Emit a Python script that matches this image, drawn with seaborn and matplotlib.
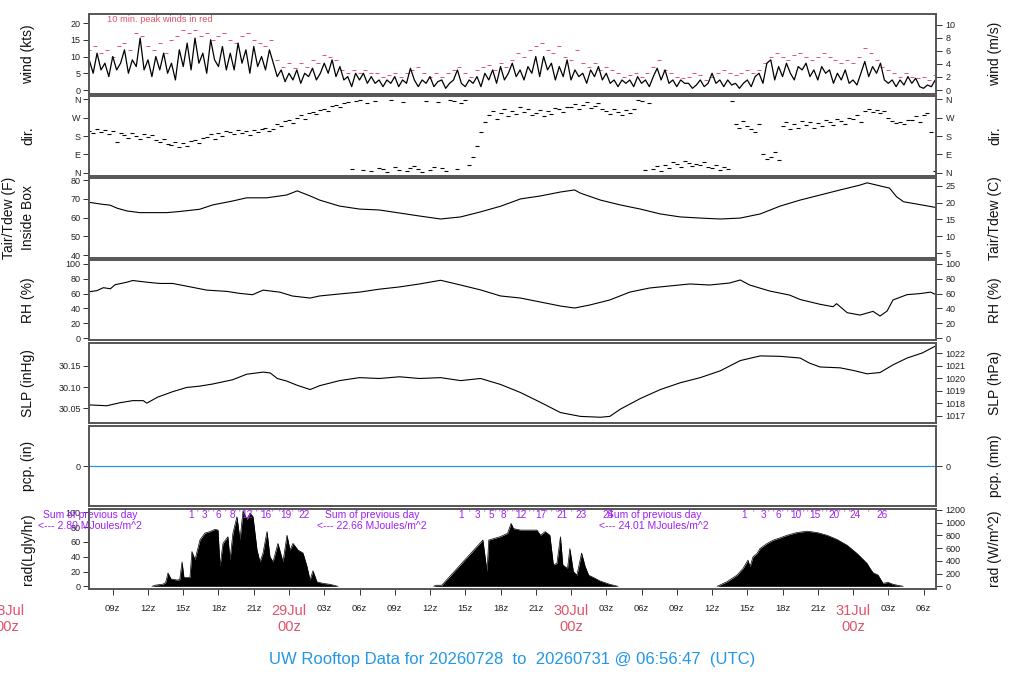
import numpy as np
import matplotlib
matplotlib.use("Agg")
import matplotlib.pyplot as plt
import matplotlib.transforms as mtransforms
import seaborn as sns

# ---------------- data (hours since 28 Jul 00z) ----------------
# wind speed (kts), every 20 min from 07z 28 Jul
wind_kts = [
    9, 5, 11, 6, 8, 4, 10, 6, 8, 12, 5, 9,
    7, 15.5, 6, 9, 4, 10, 6, 11, 5, 8, 3, 12,
    7, 14, 6, 15.5, 8, 11, 5, 15, 9, 7, 13, 6,
    11, 6, 14, 8, 12, 5, 13, 7, 10, 6, 12, 8,
    4, 6, 2.5, 5, 3, 6, 2, 5, 4, 6.5, 3, 5,
    8, 5, 9, 4, 7, 3, 4, 1, 5, 3, 5, 2,
    4, 2, 3, 1, 3, 2, 4, 1, 3, 2, 6.5, 3,
    1, 3, 2, 4, 1, 2.5, 3, 0.5, 2, 3, 6, 2,
    1, 3, 2, 4, 1, 5, 3, 6, 2, 7, 3, 5,
    8, 4, 6, 3, 7, 5, 10, 4, 10, 6, 8, 3,
    7, 4, 9, 3, 6, 4, 5, 2, 6, 4, 7, 3,
    5, 2, 3, 1, 3, 2, 3, 1, 4, 2, 3, 1,
    4, 6.5, 3, 6, 2, 3, 1, 3, 2, 2, 0.5, 1.5,
    3, 1, 2, 5, 2, 3, 1, 3, 1.5, 2, 0.5, 2,
    3, 1, 4, 5, 2, 8, 9, 3, 7, 4, 8, 5,
    3, 7, 6, 8, 4, 6, 3, 7, 5, 6, 2, 5,
    3, 6, 2, 3, 1.5, 5, 8.5, 4, 7, 5, 8, 3,
    2, 3, 1, 3, 1.5, 4, 2, 3.5, 1, 0.5, 1.5, 1,
    3,
]
# 10-min peak winds (kts), every 30 min from 07z 28 Jul
peak_kts = [
    12, 13, 11, 12, 10, 13,
    14, 12, 17, 16,
    13, 12, 14, 11,
    15, 16, 18, 17, 18, 16, 17, 15,
    16, 17, 15, 14, 16, 17, 15, 14, 13, 15,
    9, 7, 8, 6.5, 8, 7, 9, 8,
    10.5, 10, 9,
    6, 5, 6, 5, 6, 5,
    5, 4, 4.5, 5, 4, 5, 6, 7, 5, 4, 5, 4, 5, 6, 7, 5, 4,
    6, 7, 7.5, 6, 8, 7,
    9, 11, 10, 12, 13, 14, 12, 11, 13, 10, 9, 12,
    8, 7, 8, 6, 7, 6,
    5, 4, 4.5, 5, 4, 5, 7, 9,
    6, 5, 4, 3.5, 4, 5, 4.5, 3, 4, 5, 6, 5, 4.5, 5, 6, 5, 6,
    8, 10, 11, 10, 9, 10.5, 11, 10, 9, 10, 11, 10, 9, 8, 9, 8,
    10, 12.5, 11, 9, 7, 6,
    5, 4, 5, 4, 3.5, 4, 3, 4.5,
]
# wind direction (deg), every 20 min from 07z 28 Jul
dir_deg = [
    205, 195, 215, 200, 210, 190, 205, 150, 195, 185, 170, 195,
    180, 165, 190, 175, 185, 160, 150, 165, 140, 135, 150, 125,
    145, 130, 155, 160, 145, 170, 175, 190, 165, 195, 180, 205,
    200, 190, 210, 195, 205, 185, 210, 200, 215, 220, 205, 215,
    240, 230, 255, 260, 245, 270, 280, 265, 290, 295, 285, 305,
    310, 300, 325, 330, 320, 340, 345, 20, 350, 355, 15, 340,
    10, 350, 25, 20, 5, 355, 30, 15, 345, 10, 25, 35,
    20, 5, 350, 15, 30, 345, 25, 10, 355, 350, 20, 340,
    355, 40, 80, 130, 200, 250, 280, 300, 265, 290, 310, 275,
    300, 285, 320, 295, 310, 280, 290, 305, 275, 300, 285, 315,
    310, 295, 320, 320, 335, 310, 330, 345, 315, 325, 340, 310,
    300, 285, 310, 295, 280, 305, 290, 310, 355, 350, 15, 340,
    20, 35, 10, 40, 25, 55, 45, 30, 60, 50, 35, 45,
    40, 55, 30, 25, 40, 15, 30, 20, 350, 240, 220, 255,
    230, 215, 200, 240, 90, 70, 80, 100, 65, 230, 250, 215,
    240, 220, 255, 235, 250, 220, 245, 230, 260, 250, 235, 265,
    255, 240, 270, 265, 280, 250, 300, 310, 295, 305, 290, 300,
    270, 255, 245, 250, 240, 260, 260, 275, 250, 280, 290, 200,
    10,
]
# air temperature inside box (F)
temp_hr = [6.98, 8.17, 8.77, 9.36, 10.2, 11.3, 13.6, 14.7, 16.4, 17.5, 19.2, 20.4,
           22.1, 23.8, 24.7, 25.8, 26.6, 28.3, 30.0, 31.7, 33.4, 35.1, 36.9, 38.6,
           40.3, 42.0, 43.7, 45.4, 47.1, 48.3, 48.8, 50.5, 52.2, 53.9, 55.6, 57.3,
           59.0, 60.7, 62.4, 64.1, 65.8, 67.5, 69.2, 70.9, 72.6, 73.2, 74.6, 75.1,
           75.7, 76.3, 77.4, 79.0]
temp_f = [68.1, 67.0, 66.6, 65.0, 63.5, 62.6, 62.6, 63.2, 64.4, 66.7, 68.8, 70.5,
          70.5, 72.0, 74.2, 71.5, 69.3, 66.1, 64.5, 64.0, 62.4, 60.8, 59.2, 60.3,
          63.0, 66.0, 69.9, 71.5, 73.6, 74.7, 73.0, 69.3, 66.7, 64.5, 61.9, 60.3,
          59.7, 59.2, 59.7, 61.9, 66.1, 69.3, 72.0, 74.7, 77.3, 78.5, 76.4, 75.7,
          71.1, 68.4, 67.2, 65.4]
# relative humidity (%)
rh_hr = [6.98, 7.66, 8.2, 8.8, 9.2, 10.2, 10.7, 11.9, 13.0, 14.1, 15.3, 17.0,
         18.7, 19.8, 20.9, 21.8, 23.2, 24.3, 25.8, 26.6, 28.3, 30.0, 31.7, 33.4,
         35.1, 36.9, 38.6, 40.3, 42.0, 43.7, 45.4, 47.1, 48.3, 49.6, 51.3, 53.0,
         54.7, 56.4, 58.1, 59.8, 61.5, 62.4, 63.2, 64.9, 66.6, 67.5, 69.2, 70.3,
         70.6, 71.5, 72.6, 73.7, 74.3, 74.9, 75.4, 76.6, 77.7, 78.6, 79.0]
rh_pct = [62.5, 64, 68, 66.5, 72, 75.4, 77.7, 75.4, 73.7, 73.7, 70, 64.7,
          63, 60.3, 58.5, 64.7, 62, 56.7, 54, 56.8, 59.5, 62, 66, 69,
          73, 78, 71.6, 65, 56.8, 54, 48.6, 43.2, 40.5, 44.6, 51.4, 62,
          67.6, 70.3, 73, 71.6, 74.3, 78.4, 71.6, 63.5, 58, 52, 45.5, 42.3,
          46.4, 34.2, 31, 36, 29.7, 36.5, 51.4, 58.6, 60, 62, 59]
# sea-level pressure (inHg)
slp_hr = [6.98, 8.5, 9.6, 10.7, 11.6, 11.9, 12.8, 14.1, 15.3, 16.4, 17.5, 19.2,
          20.4, 21.8, 22.4, 23.0, 23.8, 24.7, 25.8, 26.6, 28.3, 30.0, 31.7, 33.4,
          35.1, 36.9, 38.6, 40.3, 42.0, 43.7, 45.4, 47.1, 48.8, 50.5, 51.3, 52.2,
          53.9, 55.6, 57.3, 59.0, 60.7, 62.4, 64.1, 65.8, 67.5, 68.3, 69.2, 70.9,
          72.0, 73.2, 74.3, 75.4, 76.6, 77.9, 79.0]
slp_inhg = [30.058, 30.056, 30.063, 30.068, 30.068, 30.062, 30.076, 30.089, 30.099,
            30.102, 30.107, 30.117, 30.130, 30.135, 30.133, 30.120, 30.114, 30.104,
            30.094, 30.103, 30.115, 30.122, 30.120, 30.124, 30.120, 30.122, 30.115,
            30.120, 30.106, 30.087, 30.064, 30.040, 30.031, 30.029, 30.031, 30.048,
            30.073, 30.094, 30.110, 30.122, 30.138, 30.162, 30.173, 30.172, 30.168,
            30.156, 30.147, 30.145, 30.139, 30.131, 30.134, 30.152, 30.168, 30.180,
            30.196]
# precipitation (in)
pcp_hr = [6.95, 79.05]
pcp_in = [0.0, 0.0]
# solar radiation (Langley/hr), one list per daylight period
rad_hr = [[12.34, 12.6, 13.28, 13.5, 13.7, 13.96, 14.47, 14.7, 14.9, 15.06, 15.57,
           15.74, 16.0, 16.43, 16.85, 17.28, 17.7, 17.96, 18.13, 18.38, 18.8, 18.98,
           19.23, 19.57, 19.83, 20.09, 20.43, 20.68, 20.94, 21.28, 21.53, 21.79, 22.13,
           22.38, 22.64, 23.06, 23.49, 23.83, 24.09, 24.34, 24.77, 25.19, 25.53, 25.79,
           26.04, 26.38, 26.89, 27.49, 28.17],
          [36.3, 36.5, 37.0, 40.5, 40.85, 41.0, 41.96, 42.6, 42.9, 43.1, 43.7, 45.1,
           45.4, 45.8, 46.2, 46.5, 46.8, 47.1, 47.3, 47.7, 47.9, 48.2, 48.5, 48.9,
           49.2, 49.5, 49.9, 50.5, 51.3, 52.0],
          [60.43, 61.28, 62.13, 62.64, 63.06, 63.23, 63.49, 63.83, 64.09, 64.68, 65.19,
           65.79, 66.38, 67.23, 68.09, 68.94, 69.79, 70.64, 71.49, 72.34, 73.19, 73.45,
           73.7, 74.13, 74.55, 74.98, 75.4, 76.26]]
rad_lgly = [[0, 1.5, 3, 5, 18, 10, 8.5, 9, 33, 12, 12,
             47, 36, 63, 72, 74, 77, 76, 27, 58, 67, 36,
             72, 94, 63, 102, 90, 99, 94, 49, 33, 45, 74,
             40, 33, 58, 33, 69, 49, 58, 49, 45, 27, 8.5,
             21, 6, 4, 2.7, 0],
            [0, 1.5, 1.5, 62.6, 20, 62.6, 67, 71.6, 85, 78, 76, 76,
             69, 74, 69, 29, 31, 67, 29, 24, 51, 20, 15, 45,
             27, 15, 12, 7, 2.7, 0],
            [0, 6.3, 15.2, 24.2, 35.4, 26.5, 39.9, 44.4, 51.2, 57.9, 62.3,
             65.5, 69, 72.7, 74.5, 72.7, 69, 63.3, 55.6, 44.4, 31, 24.2,
             18.4, 15.2, 4, 5.4, 2.7, 0]]
# cumulative daily radiation marks (MJ/m^2) and their times
mj_marks = [[1, 3, 6, 8, 12, 16, 19, 22],
            [1, 3, 5, 8, 12, 17, 21, 23, 24],
            [1, 3, 6, 10, 15, 20, 24, 26]]
mj_hours = [[15.66, 16.77, 17.96, 19.15, 20.43, 22.04, 23.74, 25.28],
            [38.64, 40.0, 41.19, 42.21, 43.74, 45.45, 47.23, 48.85, 51.15],
            [62.72, 64.34, 65.62, 67.15, 68.77, 70.38, 72.17, 74.47]]
day_sums = ["2.80", "22.66", "24.01"]
day_names = ["28Jul", "29Jul", "30Jul", "31Jul"]
day_hours = [0, 24, 48, 72]

# ---------------- style ----------------
sns.set_theme(style="white")
plt.rcParams["font.family"] = ["Liberation Sans", "DejaVu Sans"]

RED = "#DF536B"
BLUE = "#2297E6"
PURPLE = "#A020F0"
XMIN, XMAX = 6.98, 79.06

fig = plt.figure(figsize=(10.24, 7.0), dpi=100)
fig.patch.set_facecolor("white")


def panel(top, bot):
    return fig.add_axes([89 / 1024, 1 - bot / 700, 847 / 1024, (bot - top) / 700])


def style(ax, twin):
    for a in (ax, twin):
        for s in a.spines.values():
            s.set_color("#555555")
            s.set_linewidth(1.2)
        a.set_xlim(XMIN, XMAX)
        a.set_xticks([])
        a.set_xlabel("")
        a.set_ylabel("")
        a.grid(False)
    ax.tick_params(axis="y", left=True, right=False, length=4, width=0.7,
                   color="#333333", labelsize=6.5, pad=2, labelcolor="#222222")
    twin.tick_params(axis="y", left=False, right=True, labelright=True, labelleft=False,
                     length=4, width=0.7, color="#333333", labelsize=6.5, pad=3,
                     labelcolor="#222222")


def ylab(text, top, bot, side="left", x=None):
    cy = 1 - (top + bot) / 2 / 700
    if x is None:
        x = 28 if side == "left" else 995
    fig.text(x / 1024, cy, text, rotation=90, ha="center", va="center",
             fontsize=10, color="#111111")


wind_t = 7 + np.arange(len(wind_kts)) / 3.0
peak_t = 7 + np.arange(len(peak_kts)) * 0.5
dir_t = 7 + np.arange(len(dir_deg)) / 3.0

# ---- wind ----
ax = panel(14, 94)
sns.lineplot(x=wind_t, y=wind_kts, ax=ax, color="black", lw=0.9, estimator=None)
sns.scatterplot(x=peak_t, y=peak_kts, ax=ax, marker="_", s=6, color=RED, linewidth=0.7)
ax.set_ylim(-1.19, 22.69)
ax.set_yticks([0, 5, 10, 15, 20])
tw = ax.twinx()
tw.set_ylim(-1.19 * 0.514444, 22.69 * 0.514444)
tw.set_yticks([0, 2, 4, 6, 8, 10])
style(ax, tw)
ax.text(8.51, 0.925, "10 min. peak winds in red",
        transform=mtransforms.blended_transform_factory(ax.transData, ax.transAxes),
        color=RED, fontsize=6.7, ha="left", va="center")
ylab("wind (kts)", 14, 94)
ylab("wind (m/s)", 14, 94, "right")

# ---- dir ----
ax = panel(96, 176)
sns.scatterplot(x=dir_t, y=dir_deg, ax=ax, marker="_", s=6, color="black", linewidth=0.8)
ax.set_ylim(-14.6, 374.6)
ax.set_yticks([0, 90, 180, 270, 360])
ax.set_yticklabels(["N", "E", "S", "W", "N"])
tw = ax.twinx()
tw.set_ylim(-14.6, 374.6)
tw.set_yticks([0, 90, 180, 270, 360])
tw.set_yticklabels(["N", "E", "S", "W", "N"])
style(ax, tw)
ylab("dir.", 96, 176)
ylab("dir.", 96, 176, "right")

# ---- temperature ----
ax = panel(178, 258)
sns.lineplot(x=temp_hr, y=temp_f, ax=ax, color="black", lw=0.8, estimator=None)
ax.set_ylim(38.4, 81.07)
ax.set_yticks([40, 50, 60, 70, 80])
tw = ax.twinx()
tw.set_ylim((38.4 - 32) * 5 / 9, (81.07 - 32) * 5 / 9)
tw.set_yticks([5, 10, 15, 20, 25])
style(ax, tw)
ylab("Tair/Tdew (F)", 178, 258, x=9)
ylab("Inside Box", 178, 258, x=28)
ylab("Tair/Tdew (C)", 178, 258, "right")

# ---- RH ----
ax = panel(260, 340)
sns.lineplot(x=rh_hr, y=rh_pct, ax=ax, color="black", lw=0.8, estimator=None)
ax.set_ylim(-2.7, 105.4)
ax.set_yticks([0, 20, 40, 60, 80, 100])
tw = ax.twinx()
tw.set_ylim(-2.7, 105.4)
tw.set_yticks([0, 20, 40, 60, 80, 100])
style(ax, tw)
ylab("RH (%)", 260, 340)
ylab("RH (%)", 260, 340, "right")

# ---- SLP ----
ax = panel(343, 423)
sns.lineplot(x=slp_hr, y=slp_inhg, ax=ax, color="black", lw=0.8, estimator=None)
ax.set_ylim(30.0155, 30.2033)
ax.set_yticks([30.05, 30.10, 30.15])
ax.set_yticklabels(["30.05", "30.10", "30.15"])
tw = ax.twinx()
tw.set_ylim(30.0155 * 33.8639, 30.2033 * 33.8639)
tw.set_yticks([1017, 1018, 1019, 1020, 1021, 1022])
style(ax, tw)
ylab("SLP (inHg)", 343, 423)
ylab("SLP (hPa)", 343, 423, "right")

# ---- precipitation ----
ax = panel(426, 506)
sns.lineplot(x=pcp_hr, y=pcp_in, ax=ax, color=BLUE, lw=0.9, estimator=None)
ax.set_ylim(-0.1, 0.1)
ax.set_yticks([0])
tw = ax.twinx()
tw.set_ylim(-2.54, 2.54)
tw.set_yticks([0])
style(ax, tw)
ylab("pcp. (in)", 426, 506)
ylab("pcp. (mm)", 426, 506, "right")

# ---- radiation ----
ax = panel(509, 589)
for hh, vv in zip(rad_hr, rad_lgly):
    sns.lineplot(x=hh, y=vv, ax=ax, color="black", lw=0.5, estimator=None)
    ax.fill_between(hh, 0, vv, color="black", lw=0)
ax.set_ylim(-3.6, 104.5)
ax.set_yticks([0, 20, 40, 60, 80, 100])
tw = ax.twinx()
tw.set_ylim(-3.6 * 11.622, 104.5 * 11.622)
tw.set_yticks([0, 200, 400, 600, 800, 1000, 1200])
style(ax, tw)
ticks = np.arange(9, 79, 3)
ax.set_xticks(ticks)
ax.set_xticklabels(["" if h % 24 == 0 else "%02dz" % (h % 24) for h in ticks])
ax.tick_params(axis="x", bottom=True, length=4, width=0.7, color="#333333",
               labelsize=6.8, pad=7, labelcolor="#222222")
ylab("rad(Lgly/hr)", 509, 589)
ylab("rad (W/m^2)", 509, 589, "right")

bt = mtransforms.blended_transform_factory(ax.transData, ax.transAxes)
for d, s in zip([0, 24, 48], day_sums):
    ax.text(d + 7.05, 0.925, "Sum of previous day", transform=bt, color=PURPLE,
            fontsize=7.5, ha="center", va="center", clip_on=False)
    ax.text(d + 7.05, 0.79, "<--- %s MJoules/m^2" % s, transform=bt, color=PURPLE,
            fontsize=7.5, ha="center", va="center", clip_on=False)
for marks, hrs in zip(mj_marks, mj_hours):
    for i, (m, h) in enumerate(zip(marks, hrs)):
        ax.text(h, 0.925, str(m), transform=bt, color=PURPLE, fontsize=7.2,
                ha="center", va="center")
        if i + 1 < len(marks):
            n = marks[i + 1] - m - 1
            for k in range(1, n + 1):
                hp = h + (hrs[i + 1] - h) * k / (n + 1)
                ax.text(hp, 0.95, "'", transform=bt, color=PURPLE, fontsize=6,
                        ha="center", va="center")

# red day labels below axis
ft = mtransforms.blended_transform_factory(ax.transData, fig.transFigure)
for name, h in zip(day_names, day_hours):
    ax.text(h, 1 - 615 / 700, name, transform=ft, color=RED, fontsize=10.5,
            ha="center", va="baseline", clip_on=False)
    ax.text(h, 1 - 631 / 700, "00z", transform=ft, color=RED, fontsize=10.5,
            ha="center", va="baseline", clip_on=False)

fig.text(512 / 1024, 1 - 664 / 700,
         "UW Rooftop Data for 20260728  to  20260731 @ 06:56:47  (UTC)",
         color=BLUE, fontsize=12, ha="center", va="baseline")

fig.savefig("out.png", dpi=100, facecolor="white")
